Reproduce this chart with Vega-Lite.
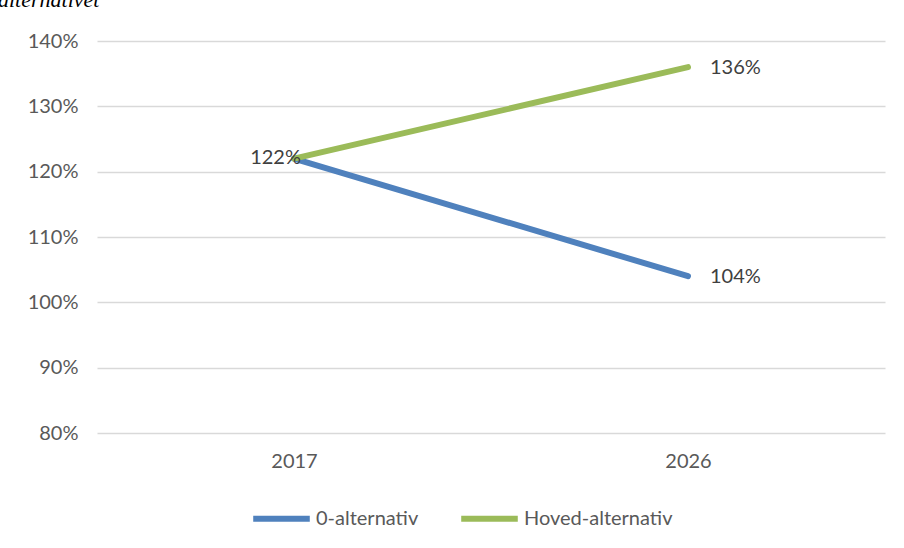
{
  "$schema": "https://vega.github.io/schema/vega-lite/v6.json",
  "width": 788,
  "height": 392,
  "padding": {"left": 97, "top": 41, "right": 19, "bottom": 115},
  "autosize": {"type": "none"},
  "background": "white",
  "title": {
    "text": "alternativet",
    "anchor": "start",
    "frame": "group",
    "font": "Liberation Serif",
    "fontStyle": "italic",
    "fontWeight": "normal",
    "fontSize": 22,
    "color": "black",
    "baseline": "alphabetic",
    "offset": 2,
    "dx": -99
  },
  "config": {
    "view": {"stroke": null},
    "font": "Lato",
    "axis": {"labelFont": "Lato", "labelFontSize": 20, "labelColor": "#595959"},
    "legend": {"labelFont": "Lato", "labelFontSize": 20, "labelColor": "#595959"}
  },
  "data": {
    "values": [
      {"year": "2017", "series": "0-alternativ", "value": 1.22},
      {"year": "2026", "series": "0-alternativ", "value": 1.04},
      {"year": "2017", "series": "Hoved-alternativ", "value": 1.22},
      {"year": "2026", "series": "Hoved-alternativ", "value": 1.36}
    ]
  },
  "encoding": {
    "x": {
      "field": "year",
      "type": "ordinal",
      "scale": {"paddingInner": 0, "paddingOuter": 0},
      "axis": {"title": null, "labelAngle": 0, "domain": false, "ticks": false, "labelPadding": 18, "grid": false}
    },
    "y": {
      "field": "value",
      "type": "quantitative",
      "scale": {"domain": [0.8, 1.4], "nice": false, "zero": false},
      "axis": {"title": null, "format": ".0%", "values": [0.8, 0.9, 1.0, 1.1, 1.2, 1.3, 1.4], "domain": false, "ticks": false, "labelPadding": 19, "gridColor": "#d9d9d9", "gridWidth": 1.5}
    }
  },
  "layer": [
    {
      "mark": {"type": "line", "strokeWidth": 6, "strokeCap": "round"},
      "encoding": {
        "color": {
          "field": "series",
          "type": "nominal",
          "scale": {"domain": ["0-alternativ", "Hoved-alternativ"], "range": ["#4f81bd", "#9bbb59"]},
          "legend": {
            "title": null,
            "orient": "none",
            "legendX": 153,
            "legendY": 446,
            "direction": "horizontal",
            "symbolType": "stroke",
            "symbolSize": 3200,
            "symbolStrokeWidth": 6,
            "labelOffset": 3,
            "columnPadding": 30
          }
        }
      }
    },
    {
      "transform": [{"filter": "datum.year == '2017' && datum.series == '0-alternativ'"}],
      "mark": {"type": "text", "align": "right", "baseline": "alphabetic", "dx": 7, "dy": 5, "fontSize": 20, "font": "Lato", "color": "#404040"},
      "encoding": {"text": {"field": "value", "type": "quantitative", "format": ".0%"}}
    },
    {
      "transform": [{"filter": "datum.year == '2026'"}],
      "mark": {"type": "text", "align": "left", "baseline": "middle", "dx": 22, "dy": 1, "fontSize": 20, "font": "Lato", "color": "#404040"},
      "encoding": {"text": {"field": "value", "type": "quantitative", "format": ".0%"}}
    }
  ]
}
